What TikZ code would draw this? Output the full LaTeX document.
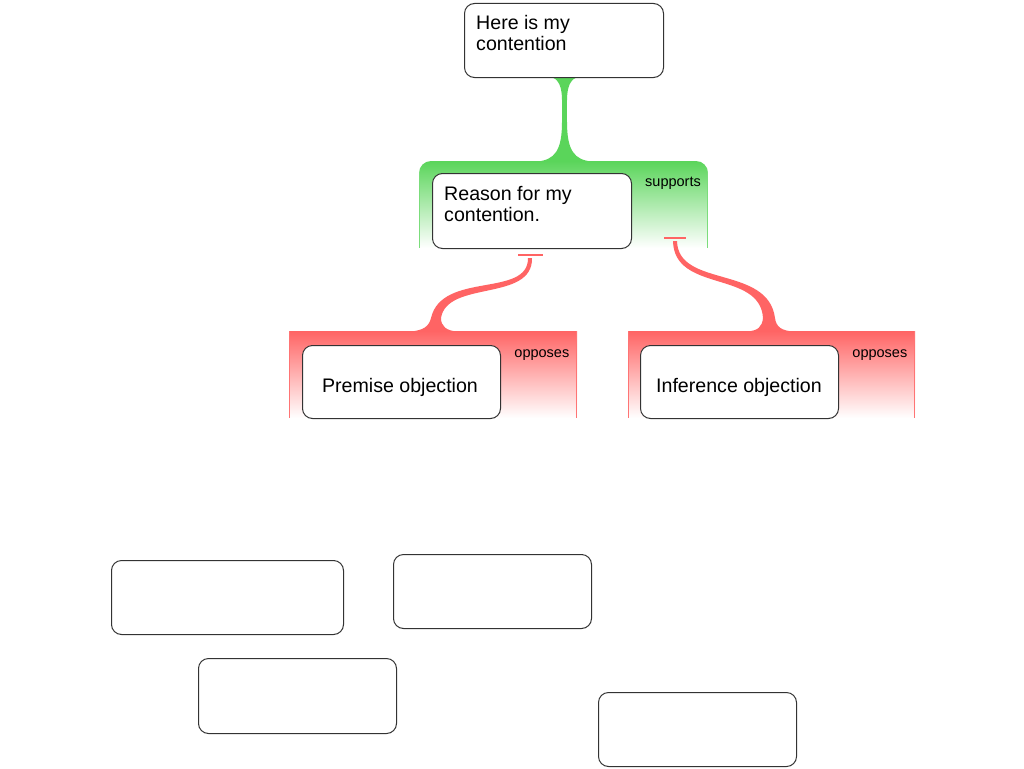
\documentclass[tikz,border=0pt]{standalone}
\usepackage{fontspec}
\setmainfont{Liberation Sans}
\definecolor{supgreen}{HTML}{5AD55A}
\definecolor{oppred}{HTML}{FF6464}
\begin{document}
\begin{tikzpicture}[x=1pt,y=-1pt,
  box/.style={draw=black!80, line width=1pt, rounded corners=10pt, fill=white, inner sep=0pt, anchor=north west},
  txt/.style={inner sep=0pt, anchor=base west, font=\fontsize{19.6}{19.6}\selectfont},
  ctxt/.style={inner sep=0pt, anchor=base, font=\fontsize{19.6}{19.6}\selectfont},
  lbl/.style={inner sep=0pt, anchor=base east, font=\fontsize{14.5}{14.5}\selectfont},
  supwire/.style={draw=supgreen, line width=5pt},
  tee/.style={draw=oppred, line width=1.2pt}]
\useasboundingbox (0,0) rectangle (1024,768);
\fill[white] (0,0) rectangle (1024,768);

% support area (green)
\shade[top color=supgreen, bottom color=white] (419,248) [rounded corners=12pt] -- (419,161) -- (708,161) [sharp corners] -- (708,248) -- cycle;
\draw[supgreen!80, line width=1pt] (419.5,172) -- (419.5,248) (707.5,172) -- (707.5,248);

% opposing areas (red)
\shade[top color=oppred, bottom color=white] (289,331) rectangle (577,418);
\draw[oppred!90, line width=1pt] (289.5,331) -- (289.5,418) (576.5,331) -- (576.5,418);
\shade[top color=oppred, bottom color=white] (628,331) rectangle (915,418);
\draw[oppred!90, line width=1pt] (628.5,331) -- (628.5,418) (914.5,331) -- (914.5,418);

% named end points of the support connector
\coordinate (gtop) at (564.5,80);
\coordinate (gbase) at (564.5,150);

% green support connector
\draw[supwire] (gtop) -- (gbase);
\fill[supgreen] (550,77) .. controls (559,78) and (562,88) .. (562,100) -- (567,100) .. controls (567,88) and (570,78) .. (579,77) -- cycle;
\fill[supgreen] (537,161.5) .. controls (555,160) and (562,150) .. (562,122) -- (567,122) .. controls (567,150) and (574,160) .. (592,161.5) -- cycle;

% red oppose connectors (tapered)
\draw[tee] (518,255) -- (543,255);
\fill[oppred] (528,258) .. controls (528.5,298) and (442,271) .. (431,318)
  .. controls (429,326) and (424,330.5) .. (410,331.5) -- (458,331.5)
  .. controls (446,331) and (441,326) .. (441,318)
  .. controls (447,280) and (533,302) .. (532,258) -- cycle;

\draw[tee] (664,238) -- (686,238);
\fill[oppred] (673,241) .. controls (674,293) and (760,270) .. (763,318)
  .. controls (762,327) and (758,331) .. (746,331.5) -- (794,331.5)
  .. controls (782,331) and (776,327) .. (775,318)
  .. controls (768,265) and (678,288) .. (677,241) -- cycle;

% boxes
\node[box, minimum width=199pt, minimum height=74pt] (c) at (464,3) {};
\node[txt] (ct1) at (476,29.5) {Here is my};
\node[txt] (ct2) at (476,51) {contention};

\node[box, minimum width=199pt, minimum height=75pt] (r) at (432,173) {};
\node[txt] (rt1) at (444,200) {Reason for my};
\node[txt] (rt2) at (444,221.5) {contention.};
\node[lbl] (sup) at (701,186) {supports};

\node[box, minimum width=198pt, minimum height=73pt] (po) at (302,345) {};
\node[ctxt] (pot) at (400,392) {Premise objection};
\node[lbl] (op1) at (569.5,357) {opposes};

\node[box, minimum width=198pt, minimum height=73pt] (io) at (640,345) {};
\node[ctxt] (iot) at (739,392) {Inference objection};
\node[lbl] (op2) at (907.5,357) {opposes};

% empty boxes
\node[box, minimum width=232pt, minimum height=74pt] (e1) at (111,560) {};
\node[box, minimum width=198pt, minimum height=74pt] (e2) at (393,554) {};
\node[box, minimum width=198pt, minimum height=75pt] (e3) at (198,658) {};
\node[box, minimum width=198pt, minimum height=74pt] (e4) at (598,692) {};
\end{tikzpicture}
\end{document}
